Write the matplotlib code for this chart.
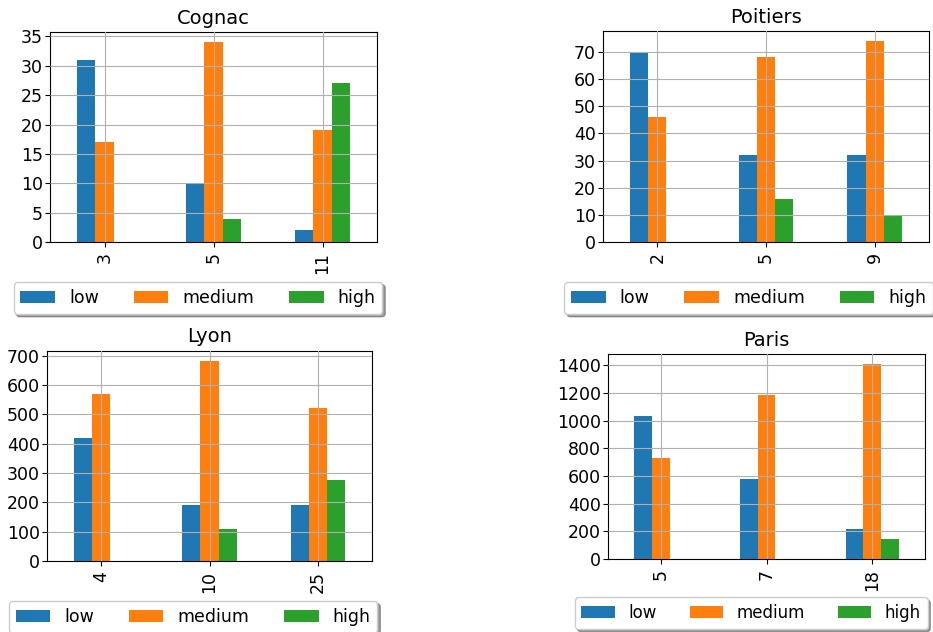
import matplotlib
matplotlib.use('Agg')
import matplotlib.pyplot as plt
from matplotlib.ticker import MultipleLocator
import numpy as np

series = ['low', 'medium', 'high']
colors = ['#1f77b4', '#ff7f0e', '#2ca02c']

cognac_cats = ['3', '5', '11']
cognac_low = [31, 10, 2]
cognac_medium = [17, 34, 19]
cognac_high = [0, 4, 27]

poitiers_cats = ['2', '5', '9']
poitiers_low = [70, 32, 32]
poitiers_medium = [46, 68, 74]
poitiers_high = [0, 16, 10]

lyon_cats = ['4', '10', '25']
lyon_low = [420, 192, 192]
lyon_medium = [570, 683, 523]
lyon_high = [0, 110, 275]

paris_cats = ['5', '7', '18']
paris_low = [1035, 580, 220]
paris_medium = [730, 1185, 1410]
paris_high = [0, 0, 145]

plt.rcParams['font.size'] = 12.5

fig = plt.figure(figsize=(9.33, 6.32), dpi=100)

# title, categories, values, y step, axes rect, legend centre, legend font
panels = [
    ('Cognac', cognac_cats, [cognac_low, cognac_medium, cognac_high], 5,
     [0.0536, 0.617, 0.3505, 0.332], (0.2122, 0.5285), 12.5),
    ('Poitiers', poitiers_cats, [poitiers_low, poitiers_medium, poitiers_high], 10,
     [0.6463, 0.617, 0.3494, 0.334], (0.8025, 0.5285), 12.5),
    ('Lyon', lyon_cats, [lyon_low, lyon_medium, lyon_high], 100,
     [0.0504, 0.1123, 0.3483, 0.333], (0.2069, 0.0237), 12.5),
    ('Paris', paris_cats, [paris_low, paris_medium, paris_high], 200,
     [0.6517, 0.1155, 0.3398, 0.3244], (0.805, 0.030), 12),
]

width = 0.5 / 3
for title, cats, vals, step, rect, leg_pos, leg_fs in panels:
    ax = fig.add_axes(rect)
    x = np.arange(len(cats))
    for i, (name, v) in enumerate(zip(series, vals)):
        ax.bar(x + (i - 1) * width, v, width, color=colors[i], label=name)
    ax.set_xlim(-0.5, len(cats) - 0.5)
    ax.set_xticks(x)
    ax.set_xticklabels(cats, rotation=90)
    ax.yaxis.set_major_locator(MultipleLocator(step))
    ax.tick_params(axis='y', pad=1.5)
    ax.set_title(title, fontsize=14)
    ax.grid(True)
    ax.set_axisbelow(False)
    ax.legend(loc='center', bbox_to_anchor=leg_pos, bbox_transform=fig.transFigure,
              ncol=3, shadow=True, fancybox=True, fontsize=leg_fs)

fig.savefig('out.png', dpi=100)
